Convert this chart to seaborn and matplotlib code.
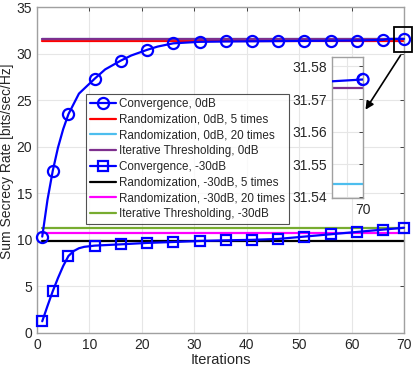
import matplotlib
matplotlib.use("Agg")
import matplotlib.pyplot as plt
import seaborn as sns
import numpy as np
from matplotlib.patches import Rectangle

# convergence curves (iteration, sum secrecy rate)
it_0db = [1, 2, 3, 4, 5, 6, 8, 11, 13, 16, 18, 21, 23, 26, 31, 36, 41, 46,
          51, 56, 61, 66, 67, 68, 69, 70]
conv_0db = [10.35, 14.3, 17.4, 19.9, 21.9, 23.5, 25.7, 27.3, 28.3, 29.25,
            29.8, 30.4, 30.75, 31.1, 31.26, 31.3, 31.32, 31.34, 31.36, 31.38,
            31.4, 31.47, 31.56, 31.5752, 31.5756, 31.576]
it_30db = [1, 2, 3, 4, 5, 6, 7, 8, 9, 11, 16, 21, 26, 31, 36, 41, 46, 51,
           56, 61, 66, 70]
conv_30db = [1.26, 2.9, 4.48, 5.9, 7.2, 8.27, 8.8, 9.1, 9.25, 9.38, 9.52,
             9.67, 9.77, 9.88, 9.95, 10.0, 10.1, 10.35, 10.6, 10.85, 11.1,
             11.3]
marker_its = [1, 3, 6, 11, 16, 21, 26, 31, 36, 41, 46, 51, 56, 61, 66, 70]

# flat baselines
iter_range = [1, 70]
rand_0db_5 = 31.30
rand_0db_20 = 31.544
it_thr_0db = 31.5735
rand_30db_5 = 9.88
rand_30db_20 = 10.77
it_thr_30db = 11.25

labels = ["Convergence, 0dB", "Randomization, 0dB, 5 times",
          "Randomization, 0dB, 20 times", "Iterative Thresholding, 0dB",
          "Convergence, -30dB", "Randomization, -30dB, 5 times",
          "Randomization, -30dB, 20 times", "Iterative Thresholding, -30dB"]

sns.set_style("white")
plt.rcParams['font.family'] = ['Liberation Sans', 'DejaVu Sans']

fig = plt.figure(figsize=(4.15, 3.74), dpi=100)
ax = fig.add_axes([37 / 415, 1 - 333 / 374, 367 / 415, 326 / 374])

blue = '#0000ff'
flat = [(rand_0db_5, '#ff0000'), (rand_0db_20, '#4dbeee'),
        (it_thr_0db, '#7e2f8e')]
flat30 = [(rand_30db_5, '#000000'), (rand_30db_20, '#ff00ff'),
          (it_thr_30db, '#77ac30')]


def draw(a, legend=True):
    lab = (lambda i: labels[i]) if legend else (lambda i: None)
    m0 = [x in marker_its for x in it_0db]
    m30 = [x in marker_its for x in it_30db]
    sns.lineplot(x=it_0db, y=conv_0db, ax=a, color=blue, lw=1.6,
                 marker='o', markersize=8, markerfacecolor='none',
                 markeredgecolor=blue, markeredgewidth=1.6, markevery=m0,
                 label=lab(0), zorder=5)
    for i, (v, c) in enumerate(flat):
        sns.lineplot(x=iter_range, y=[v, v], ax=a, color=c, lw=1.6,
                     label=lab(i + 1))
    sns.lineplot(x=it_30db, y=conv_30db, ax=a, color=blue, lw=1.6,
                 marker='s', markersize=7, markerfacecolor='none',
                 markeredgecolor=blue, markeredgewidth=1.6, markevery=m30,
                 label=lab(4), zorder=5)
    for i, (v, c) in enumerate(flat30):
        sns.lineplot(x=iter_range, y=[v, v], ax=a, color=c, lw=1.6,
                     label=lab(i + 5))


def style(a):
    a.grid(True, color='#e6e6e6', lw=0.8)
    a.tick_params(direction='in', length=3, top=True, right=True,
                  labelsize=10, colors='#262626', width=0.6)
    for s in a.spines.values():
        s.set_color('#a0a0a0')
        s.set_linewidth(1.0)


draw(ax)
# keep the end markers whole on the frame
for ln in ax.lines:
    ln.set_clip_on(False)
ax.set_xlim(0, 70)
ax.set_ylim(0, 35)
ax.set_xticks(np.arange(0, 71, 10))
ax.set_yticks(np.arange(0, 36, 5))
style(ax)
ax.set_xlabel("Iterations", fontsize=10.5, color='#262626', labelpad=1)
ax.set_ylabel("Sum Secrecy Rate [bits/sec/Hz]", fontsize=10,
              color='#262626')
ax.yaxis.set_label_coords(-0.064, 0.528)

leg = ax.legend(loc='upper left', bbox_to_anchor=(86 / 415, 1 - 94 / 374),
                bbox_transform=fig.transFigure, fontsize=8.4, frameon=True,
                fancybox=False, edgecolor='#262626', handlelength=2.2,
                handletextpad=0.3, labelspacing=0.32, borderpad=0.35,
                borderaxespad=0)
leg.get_frame().set_linewidth(0.8)

# zoom box and arrow
ax.add_patch(Rectangle((68.1, 30.15), 3.4, 2.75, fill=False, ec='k', lw=1.3,
                       clip_on=False, zorder=6))
ax.annotate("", xy=(364 / 415, 1 - 112 / 374), xycoords='figure fraction',
            xytext=(402 / 415, 1 - 53 / 374), textcoords='figure fraction',
            arrowprops=dict(arrowstyle='-|>', color='k', lw=1.2,
                            mutation_scale=12))

# inset
ins = fig.add_axes([332 / 415, 1 - 198.3 / 374, 31 / 415, 141.6 / 374])
draw(ins, legend=False)
sns.scatterplot(x=it_0db[-1:], y=conv_0db[-1:], ax=ins, marker='o', s=64,
                facecolor='none', edgecolor=blue, linewidth=1.6, zorder=6,
                clip_on=False)
ins.set_xlim(68.6, 70)
ins.set_ylim(31.5395, 31.583)
ins.set_xticks([70])
ins.set_xticks([69.3], minor=True)
ins.set_yticks([31.54, 31.55, 31.56, 31.57, 31.58])
ins.set_yticklabels(['31.54', '31.55', '31.56', '31.57', '31.58'])
style(ins)
ins.grid(True, which='minor', color='#e6e6e6', lw=0.8)
ins.tick_params(which='minor', length=0)
ins.set_xlabel('')
ins.set_ylabel('')

fig.savefig("out.png", dpi=100)
